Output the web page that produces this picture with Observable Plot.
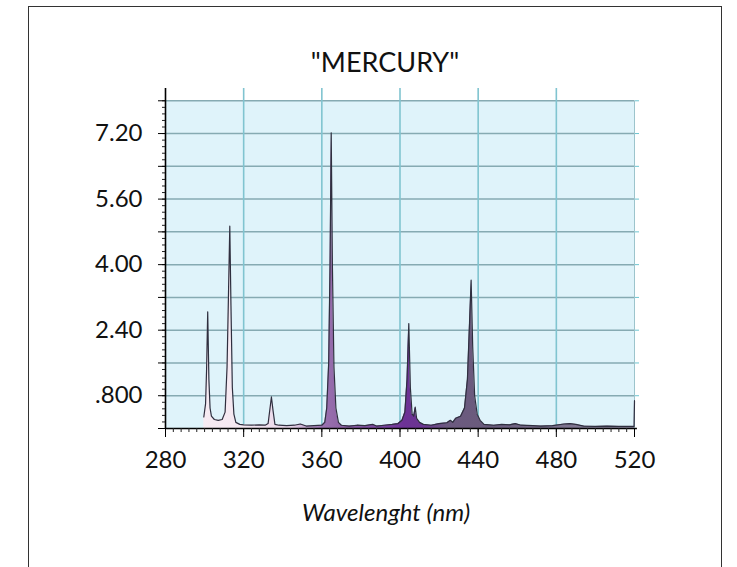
<!DOCTYPE html>
<html><head><meta charset="utf-8">
<script src="https://cdn.jsdelivr.net/npm/d3@7"></script>
<script src="https://cdn.jsdelivr.net/npm/@observablehq/plot@0.6"></script>
<style>
body{margin:0;background:#fff;font-family:Lato, sans-serif;}
#wrap{position:relative;width:737px;height:567px;overflow:hidden}
#frame{position:absolute;left:28px;top:6px;width:694px;height:575px;border:1.5px solid #333;box-sizing:border-box}
#title{position:absolute;left:0;width:770px;top:45px;text-align:center;font-size:27px;color:#111}
#chart{position:absolute;left:0;top:0}
</style></head><body>
<div id="wrap"><div id="frame"></div><div id="title">"MERCURY"</div><div id="chart"></div></div>
<script>
// Spectrum (wavelength nm, intensity)
const wavelength = [299.6,300.5,301.0,301.6,302.2,302.8,303.5,305,307,309,310.5,311.5,312.2,312.9,313.5,314.2,315,316,318,320,324,328,331,332.5,333.5,334.2,335,336,338,342,346,349,352,356,360,361.5,362.5,363.5,364.2,364.8,365.4,366.2,367.2,368.5,370,374,378,382,386,388,392,396,399,401,402.5,403.6,404.5,405.3,406.2,407,407.8,408.5,410,412,416,420,424,425.8,427,428.5,431,433,434.5,435.6,436.4,437.2,438.2,439.5,441,443,448,452,456,459,462,468,472,478,484,487,490,494,500,506,512,517,519.8,520];
const intensity = [0.28,0.6,1.4,2.85,1.2,0.5,0.3,0.22,0.2,0.22,0.4,1.5,3.2,4.94,3.0,1.0,0.35,0.15,0.1,0.09,0.08,0.09,0.08,0.12,0.5,0.77,0.45,0.1,0.08,0.07,0.08,0.11,0.06,0.07,0.08,0.15,0.5,1.6,4.0,7.22,4.0,1.5,0.5,0.15,0.08,0.06,0.08,0.07,0.1,0.06,0.08,0.1,0.12,0.2,0.4,1.2,2.56,1.0,0.35,0.3,0.52,0.25,0.15,0.1,0.08,0.12,0.14,0.2,0.15,0.25,0.3,0.5,1.2,2.6,3.62,2.0,0.8,0.35,0.2,0.1,0.08,0.1,0.09,0.12,0.08,0.07,0.06,0.07,0.11,0.12,0.1,0.06,0.05,0.06,0.05,0.05,0.05,0.68];

const xDomain = [280, 520];
const yDomain = [0, 8.3];
const gridTop = 8;
const xLabel = "Wavelenght (nm)";
const xTickValues = [280, 320, 360, 400, 440, 480, 520];
const xGridValues = [320, 360, 400, 440, 480];
const xMinorValues = d3.range(280, 521, 4);
const yTickValues = [0.8, 2.4, 4.0, 5.6, 7.2];
const yTickLabels = [".800", "2.40", "4.00", "5.60", "7.20"];
const yGridValues = [0.8, 1.6, 2.4, 3.2, 4.0, 4.8, 5.6, 6.4, 7.2, 8.0];
const yMajorValues = [0, 0.8, 1.6, 2.4, 3.2, 4.0, 4.8, 5.6, 6.4, 7.2, 8.0];
const yMinorValues = d3.range(0, 51).map(i => +(i * 0.16).toFixed(2));
// fill colours along the spectrum
const spectrumStops = [[280,"#f8eef4"],[318,"#f5e8f1"],[345,"#e9d6ea"],[360,"#9b72b0"],[370,"#8f65a6"],[392,"#7a44a0"],[402,"#6d3296"],[412,"#6b3592"],[424,"#6c5a80"],[445,"#6a5b7c"],[520,"#8f8aa0"]];

const data = wavelength.map((w, i) => ({w, v: intensity[i]}));

function gradientDefs(index, scales) {
  const defs = d3.create("svg:defs");
  const x0 = scales.x(xDomain[0]), x1 = scales.x(xDomain[1]);
  const g = defs.append("linearGradient").attr("id", "spec").attr("gradientUnits", "userSpaceOnUse")
    .attr("x1", x0).attr("x2", x1).attr("y1", 0).attr("y2", 0);
  for (const [w, c] of spectrumStops) g.append("stop").attr("offset", (scales.x(w) - x0) / (x1 - x0)).attr("stop-color", c);
  return defs.node();
}

const chart = Plot.plot({
  width: 737, height: 567,
  marginLeft: 165, marginRight: 103, marginTop: 88, marginBottom: 139,
  style: {fontFamily: "Lato, sans-serif", color: "#111", background: "transparent", overflow: "visible"},
  x: {domain: xDomain, label: null},
  y: {domain: yDomain, label: null},
  marks: [
    gradientDefs,
    Plot.rect([{}], {x1: xDomain[0], x2: xDomain[1], y1: 0, y2: gridTop, fill: "#dff3fa"}),
    Plot.ruleY(yGridValues, {x1: xDomain[0], x2: xDomain[1], stroke: "#86aab2", strokeWidth: 1.5}),
    Plot.ruleX(xGridValues, {y1: 0, y2: yDomain[1], stroke: "#80c4d0", strokeWidth: 1.6}),
    Plot.ruleX([xDomain[1]], {y1: 0, y2: gridTop, stroke: "#9cc4cc", strokeWidth: 1}),
    Plot.areaY(data, {x: "w", y: "v", fill: "url(#spec)"}),
    Plot.lineY(data, {x: "w", y: "v", stroke: "#2f2f3f", strokeWidth: 1.2}),
    Plot.ruleX([xDomain[0]], {y1: 0, y2: yDomain[1], stroke: "#000", strokeWidth: 1.6}),
    Plot.ruleY([0], {x1: xDomain[0], x2: xDomain[1] + 1.5, stroke: "#000", strokeWidth: 1.6}),
    Plot.axisY(yMinorValues, {tickSize: 3, tickFormat: () => "", label: null, stroke: "#222"}),
    Plot.axisY(yMajorValues, {tickSize: 7, tickFormat: () => "", label: null, stroke: "#000"}),
    Plot.axisY(yGridValues, {anchor: "right", tickSize: 4, tickFormat: () => "", label: null, stroke: "#6cc4d0"}),
    Plot.axisY(yTickValues, {tickSize: 0, tickPadding: 23, fontSize: 24, label: null, tickFormat: d => yTickLabels[yTickValues.indexOf(d)]}),
    Plot.axisX(xMinorValues, {tickSize: 4, tickFormat: () => "", label: null, stroke: "#222"}),
    Plot.axisX(xTickValues, {tickSize: 9, tickFormat: () => "", label: null, stroke: "#000"}),
    Plot.axisX(xTickValues, {tickSize: 0, tickPadding: 22, fontSize: 24, label: null, tickFormat: d => String(d)}),
    Plot.text([xLabel], {text: d => d, frameAnchor: "bottom", dy: 92, dx: -14, fontSize: 24, fontStyle: "italic", fill: "#111"})
  ]
});
document.getElementById("chart").appendChild(chart);
</script>
</body></html>
